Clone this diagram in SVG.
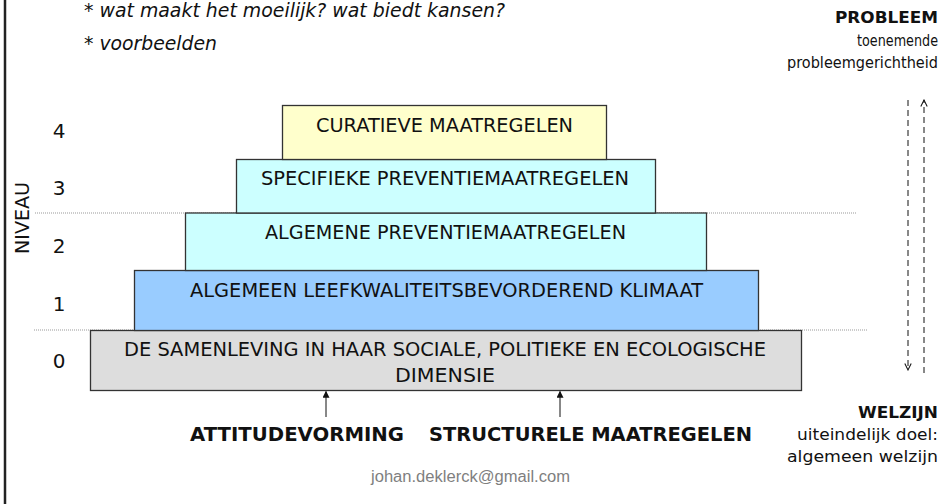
<svg xmlns="http://www.w3.org/2000/svg" width="951" height="504" viewBox="0 0 951 504">
<style>
.bg{fill:#ffffff}
.box{stroke:#333333;stroke-width:1.3}
.lbl{font-family:"DejaVu Sans",Verdana,sans-serif;font-size:20px;fill:#111111;text-anchor:middle}
.num{font-family:"DejaVu Sans",Verdana,sans-serif;font-size:20px;fill:#111111;text-anchor:middle}
.side{font-family:"DejaVu Sans",Verdana,sans-serif;font-size:15px;fill:#111111;text-anchor:end}
.sideb{font-family:"DejaVu Sans",Verdana,sans-serif;font-size:16px;font-weight:bold;fill:#111111;text-anchor:end}
.ital{font-family:"DejaVu Sans",Verdana,sans-serif;font-size:19px;font-style:italic;fill:#111111}
.bold{font-family:"DejaVu Sans",Verdana,sans-serif;font-size:20px;font-weight:bold;fill:#111111}
.dot{stroke:#999999;stroke-width:1;stroke-dasharray:1 1;fill:none}
.dash{stroke:#111111;stroke-width:1;stroke-dasharray:6 4;fill:none}
.arr{stroke:#111111;stroke-width:1;fill:none}
</style>
<defs>
<marker id="tri" viewBox="0 0 10 10" refX="9" refY="5" markerWidth="7" markerHeight="7" markerUnits="userSpaceOnUse" orient="auto">
<path d="M0,0 L10,5 L0,10 z" fill="#111111"/>
</marker>
<marker id="open" viewBox="0 0 10 10" refX="9" refY="5" markerWidth="8" markerHeight="8" markerUnits="userSpaceOnUse" orient="auto">
<path d="M1,1 L9,5 L1,9" fill="none" stroke="#111111" stroke-width="1.3"/>
</marker>
</defs>
<rect class="bg" x="0" y="0" width="951" height="504"/>
<line x1="5" y1="0" x2="5" y2="504" stroke="#222222" stroke-width="2.5"/>

<g id="guides">
<line class="dot" x1="35" y1="213" x2="856" y2="213"/>
<line class="dot" x1="34" y1="330" x2="868" y2="330"/>
</g>

<g id="intro">
<text class="ital" x="84" y="17" textLength="421" lengthAdjust="spacingAndGlyphs">* wat maakt het moeilijk? wat biedt kansen?</text>
<text class="ital" x="84" y="50" textLength="133" lengthAdjust="spacingAndGlyphs">* voorbeelden</text>
</g>

<g id="axis">
<text class="num" transform="translate(29,218) rotate(-90)" style="font-size:19px" textLength="72" lengthAdjust="spacingAndGlyphs">NIVEAU</text>
<text class="num" x="59" y="138">4</text>
<text class="num" x="59" y="195">3</text>
<text class="num" x="59" y="253">2</text>
<text class="num" x="59" y="311">1</text>
<text class="num" x="59" y="368">0</text>
</g>

<g id="level0">
<rect class="box" x="90.5" y="330.5" width="711" height="60" fill="#dddddd"/>
<text class="lbl" x="445" y="356" textLength="642" lengthAdjust="spacingAndGlyphs">DE SAMENLEVING IN HAAR SOCIALE, POLITIEKE EN ECOLOGISCHE</text>
<text class="lbl" x="445" y="382" textLength="100" lengthAdjust="spacingAndGlyphs">DIMENSIE</text>
</g>

<g id="level1">
<rect class="box" x="134.5" y="270.5" width="624" height="60" fill="#99ccff"/>
<text class="lbl" x="446.5" y="297" textLength="513" lengthAdjust="spacingAndGlyphs">ALGEMEEN LEEFKWALITEITSBEVORDEREND KLIMAAT</text>
</g>

<g id="level2">
<rect class="box" x="185.5" y="213" width="521" height="57.5" fill="#ccffff"/>
<text class="lbl" x="445.5" y="239" textLength="361" lengthAdjust="spacingAndGlyphs">ALGEMENE PREVENTIEMAATREGELEN</text>
</g>

<g id="level3">
<rect class="box" x="236.5" y="159.5" width="419" height="53.5" fill="#ccffff"/>
<text class="lbl" x="445" y="185" textLength="368" lengthAdjust="spacingAndGlyphs">SPECIFIEKE PREVENTIEMAATREGELEN</text>
</g>

<g id="level4">
<rect class="box" x="282.5" y="105.5" width="324" height="54" fill="#ffffcc"/>
<text class="lbl" x="444.5" y="132" textLength="257" lengthAdjust="spacingAndGlyphs">CURATIEVE MAATREGELEN</text>
</g>

<g id="attitude">
<text class="bold" x="190" y="441" textLength="214" lengthAdjust="spacingAndGlyphs">ATTITUDEVORMING</text>
</g>
<g id="structureel">
<text class="bold" x="429" y="441" textLength="323" lengthAdjust="spacingAndGlyphs">STRUCTURELE MAATREGELEN</text>
</g>

<g id="probleem">
<text class="sideb" x="938" y="23" textLength="103" lengthAdjust="spacingAndGlyphs">PROBLEEM</text>
<text class="side" x="938" y="46" textLength="81" lengthAdjust="spacingAndGlyphs">toenemende</text>
<text class="side" x="938" y="68" textLength="151" lengthAdjust="spacingAndGlyphs">probleemgerichtheid</text>
</g>

<g id="welzijn">
<text class="sideb" x="938" y="418" textLength="80" lengthAdjust="spacingAndGlyphs">WELZIJN</text>
<text class="side" x="938" y="440" textLength="141" lengthAdjust="spacingAndGlyphs">uiteindelijk doel:</text>
<text class="side" x="938" y="462" textLength="151" lengthAdjust="spacingAndGlyphs">algemeen welzijn</text>
</g>

<g id="connectors">
<line class="arr" x1="326" y1="417" x2="326" y2="391.5" marker-end="url(#tri)"/>
<line class="arr" x1="560" y1="417" x2="560" y2="391.5" marker-end="url(#tri)"/>
<line class="dash" x1="908" y1="100" x2="908" y2="370" marker-end="url(#open)"/>
<line class="dash" x1="924" y1="373" x2="924" y2="100" marker-end="url(#open)"/>
</g>

<text x="470.5" y="482" font-family="'Liberation Sans',Arial,sans-serif" font-size="16" fill="#7f7f7f" text-anchor="middle" textLength="199" lengthAdjust="spacingAndGlyphs">johan.deklerck@gmail.com</text>
</svg>
